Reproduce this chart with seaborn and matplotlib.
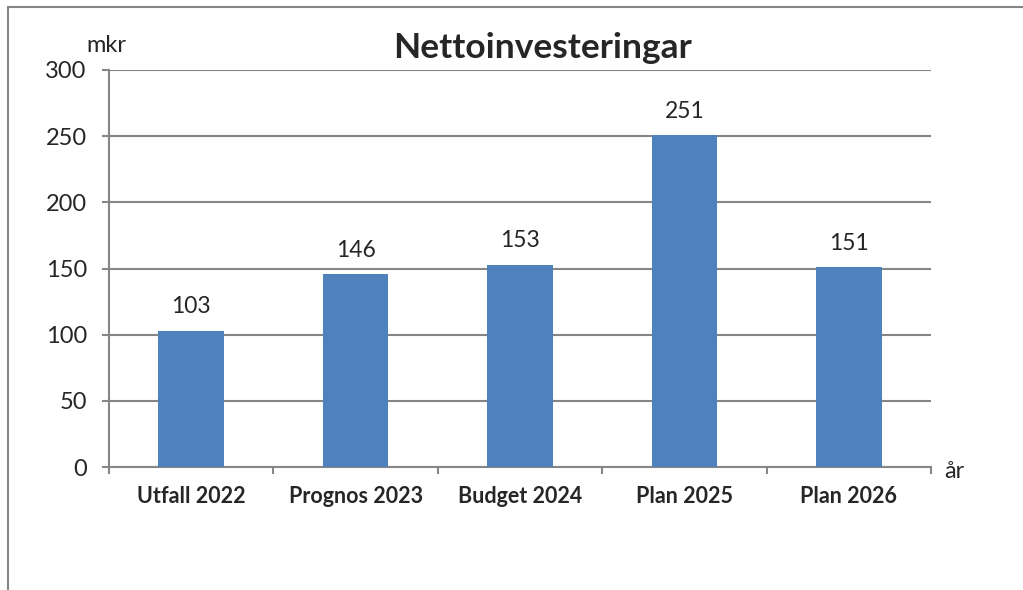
import matplotlib.pyplot as plt
import seaborn as sns
import numpy as np
import pandas as pd

categories = ['Utfall 2022', 'Prognos 2023', 'Budget 2024', 'Plan 2025', 'Plan 2026']
values = [103, 146, 153, 251, 151]
yticks = [0, 50, 100, 150, 200, 250, 300]

sns.set_theme(style='white')
plt.rcParams['font.family'] = ['Lato', 'DejaVu Sans']

df = pd.DataFrame({'kat': categories, 'mkr': values})
grey = '#868686'

fig = plt.figure(figsize=(10.23, 5.90), dpi=100)
ax = fig.add_axes([109 / 1023, 123 / 590, 822 / 1023, 397 / 590])

sns.barplot(data=df, x='kat', y='mkr', color='#4F81BD', width=0.4, saturation=1,
            linewidth=0, ax=ax, zorder=3)

ax.set_ylim(0, 300)
ax.set_xlim(-0.5, len(categories) - 0.5)
ax.set_yticks(yticks)
ax.yaxis.grid(True, color=grey, linewidth=1.5, zorder=0)
ax.set_xlabel('')
ax.set_ylabel('')

for s in ['top', 'right']:
    ax.spines[s].set_visible(False)
for s in ['left', 'bottom']:
    ax.spines[s].set_color(grey)
    ax.spines[s].set_linewidth(1.5)

ax.tick_params(axis='y', length=5, width=1.5, color=grey, labelsize=17, pad=11, left=True)
ax.tick_params(axis='x', which='major', length=0, labelsize=15.5, pad=14)
ax.set_xticks(np.arange(-0.5, len(categories)), minor=True)
ax.tick_params(axis='x', which='minor', length=5, width=1.5, color=grey, bottom=True)
for lbl in ax.get_xticklabels():
    lbl.set_fontweight('bold')

for i, v in enumerate(values):
    ax.text(i, v + 10, str(v), ha='center', va='bottom', fontsize=16.5)

fig.text(542 / 1023, 1 - 48 / 590, 'Nettoinvesteringar', fontsize=25.5, fontweight='bold', va='center', ha='center')
fig.text(86 / 1023, 1 - 45 / 590, 'mkr', fontsize=17, va='center', ha='left')
fig.text(944 / 1023, 1 - 472 / 590, 'år', fontsize=17, va='center', ha='left')

# outer frame lines (left and top)
fig.add_artist(plt.Line2D([8 / 1023, 8 / 1023], [0, 1 - 7 / 590], color=grey, linewidth=1.5, transform=fig.transFigure))
fig.add_artist(plt.Line2D([8 / 1023, 1], [1 - 7 / 590, 1 - 7 / 590], color=grey, linewidth=1.5, transform=fig.transFigure))

fig.savefig('out.png', dpi=100)
